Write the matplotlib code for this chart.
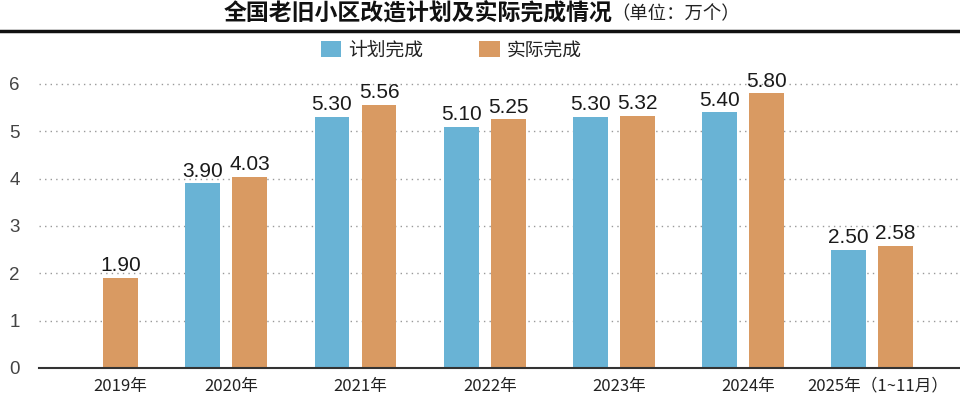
import matplotlib
matplotlib.use("Agg")
import matplotlib.pyplot as plt
from matplotlib.patches import Patch
from matplotlib.lines import Line2D
import numpy as np

plt.rcParams['font.family'] = ['Noto Sans CJK SC', 'DejaVu Sans']

years = ["2019年", "2020年", "2021年", "2022年", "2023年", "2024年", "2025年（1~11月）"]
plan = [None, 3.90, 5.30, 5.10, 5.30, 5.40, 2.50]
actual = [1.90, 4.03, 5.56, 5.25, 5.32, 5.80, 2.58]
series_names = ["计划完成", "实际完成"]
title_main = "全国老旧小区改造计划及实际完成情况"
title_unit = "（单位：万个）"

BLUE = "#69B3D5"
ORANGE = "#D99A62"

W, H = 960, 399
fig = plt.figure(figsize=(W / 100, H / 100), dpi=100)
ax = fig.add_axes([39 / W, (H - 368) / H, (W - 39) / W, (368 - 65) / H])

x = np.arange(len(years))
off = 0.182
bw = 0.27

for i in range(len(years)):
    if plan[i] is not None:
        ax.bar(x[i] - off, plan[i], bw, color=BLUE, zorder=3)
        ax.text(x[i] - off, plan[i] + 0.06, f"{plan[i]:.2f}", ha='center', va='bottom',
                fontsize=15, family='Liberation Sans', color='#1a1a1a', zorder=4)
    ax.bar(x[i] + off, actual[i], bw, color=ORANGE, zorder=3)
    ax.text(x[i] + off, actual[i] + 0.06, f"{actual[i]:.2f}", ha='center', va='bottom',
            fontsize=15, family='Liberation Sans', color='#1a1a1a', zorder=4)

label_pos = [x[i] + off if plan[i] is None else x[i] + 0.04 for i in range(len(years))]
ax.set_xticks(label_pos)
ax.set_xticklabels(years, fontsize=12, color='#222222')
ax.tick_params(axis='x', length=0, pad=7)

ax.set_ylim(0, 6.4)
ax.set_xlim(-0.45, 6.68)
ax.set_yticks(range(0, 7))
ax.set_yticklabels([str(v) for v in range(0, 7)], fontsize=13.5, color='#444444',
                   family='Liberation Sans')
ax.tick_params(axis='y', length=0, pad=14)
ax.yaxis.grid(True, linestyle=(0, (1, 3)), color='#999999', linewidth=1, zorder=0)
ax.set_axisbelow(True)
for s in ['top', 'right', 'left']:
    ax.spines[s].set_visible(False)
ax.spines['bottom'].set_color('#333333')
ax.spines['bottom'].set_linewidth(1.5)
ax.spines['bottom'].set_zorder(5)

# Title
fig.text(612 / W, 1 - 13 / H, title_main, ha='right', va='center', fontsize=16.5,
         fontweight='bold', color='#111111')
fig.text(611 / W, 1 - 14 / H, title_unit, ha='left', va='center', fontsize=13.2,
         color='#222222')
fig.add_artist(Line2D([0, 1], [1 - 31 / H, 1 - 31 / H], color='#111111', linewidth=2.5,
                      transform=fig.transFigure))

handles = [Patch(facecolor=BLUE, edgecolor='none'), Patch(facecolor=ORANGE, edgecolor='none')]
fig.legend(handles, series_names, loc='center', bbox_to_anchor=(451 / W, 1 - 50 / H),
           ncol=2, frameon=False, fontsize=13.5, handlelength=1.1, handleheight=1.0,
           handletextpad=0.35, columnspacing=3.0, labelcolor='#222222')

fig.savefig("out.png", dpi=100)
